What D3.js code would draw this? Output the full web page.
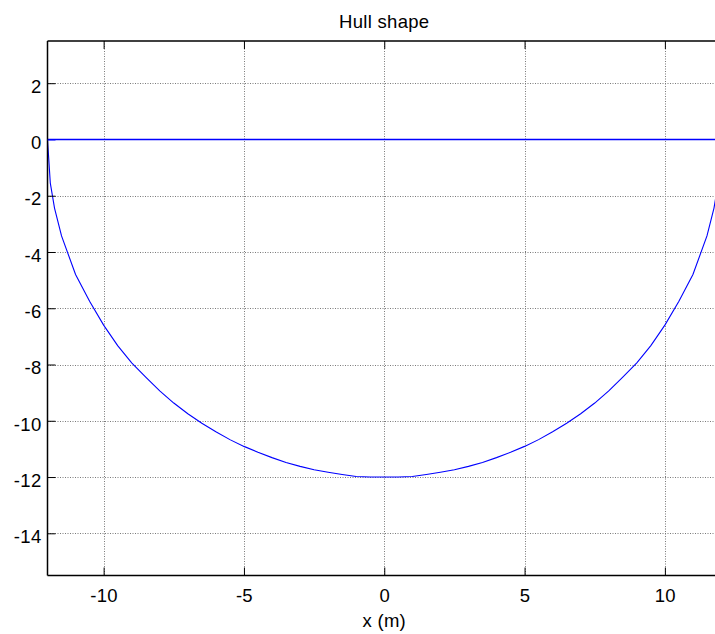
<!DOCTYPE html>
<html>
<head>
<meta charset="utf-8">
<script src="https://cdn.jsdelivr.net/npm/d3@7"></script>
<style>
  html, body { margin: 0; padding: 0; background: #fff; overflow: hidden; }
  svg { display: block; }
  text { font-family: "Liberation Sans", Arial, Helvetica, sans-serif; fill: #000; }
</style>
</head>
<body>
<svg id="chart" width="715" height="634"></svg>
<script>
// ---- data ----
const hullX = [-12, -11.9, -11.75, -11.5, -11, -10.5, -10, -9.5, -9, -8.5, -8, -7.5, -7, -6.5, -6, -5.5, -5, -4.5, -4, -3.5, -3, -2.5, -2, -1.5, -1, -0.5, 0,
               0.5, 1, 1.5, 2, 2.5, 3, 3.5, 4, 4.5, 5, 5.5, 6, 6.5, 7, 7.5, 8, 8.5, 9, 9.5, 10, 10.5, 11, 11.5, 11.75, 11.9, 12];
const hullY = [0, -1.55, -2.44, -3.43, -4.8, -5.75, -6.6, -7.33, -7.94, -8.45, -8.94, -9.37, -9.75, -10.09, -10.39, -10.67, -10.91, -11.12, -11.31, -11.48, -11.62, -11.74, -11.83, -11.91, -11.98, -12, -12,
               -12, -11.98, -11.91, -11.83, -11.74, -11.62, -11.48, -11.31, -11.12, -10.91, -10.67, -10.39, -10.09, -9.75, -9.37, -8.94, -8.45, -7.94, -7.33, -6.6, -5.75, -4.8, -3.43, -2.44, -1.55, 0];
const deckX = [-12, 12];
const deckY = [0, 0];
const xTicks = [-10, -5, 0, 5, 10];
const yTicks = [2, 0, -2, -4, -6, -8, -10, -12, -14];
const xDomain = [-12, 12];
const yDomain = [-15.5, 3.5];
const titleText = "Hull shape";
const xLabelText = "x (m)";

// ---- layout ----
const L = 47.5, R = 721, T = 41, B = 575.5;
const FS = 18.5;
const svg = d3.select("#chart");
const x = d3.scaleLinear().domain(xDomain).range([L, R]);
const y = d3.scaleLinear().domain(yDomain).range([B, T]);
const fmt = d => String(d);

// grid
const grid = svg.append("g").attr("stroke", "#7a7a7a").attr("stroke-width", 1).attr("stroke-dasharray", "1,1.5");
grid.selectAll(".gx").data(xTicks).join("line")
  .attr("x1", d => Math.round(x(d)) + 0.5).attr("x2", d => Math.round(x(d)) + 0.5)
  .attr("y1", T).attr("y2", B);
grid.selectAll(".gy").data(yTicks.filter(d => d !== 0)).join("line")
  .attr("y1", d => Math.round(y(d)) + 0.5).attr("y2", d => Math.round(y(d)) + 0.5)
  .attr("x1", L).attr("x2", R);

// lines
const line = d3.line().x(d => x(d[0])).y(d => y(d[1]));
svg.append("path").datum(deckX.map((v, i) => [v, deckY[i]]))
  .attr("d", line).attr("fill", "none").attr("stroke", "#0000ff").attr("stroke-width", 1.6);
svg.append("path").datum(hullX.map((v, i) => [v, hullY[i]]))
  .attr("d", line).attr("fill", "none").attr("stroke", "#0000ff").attr("stroke-width", 1.1);

// axes (MATLAB-style inward ticks)
const tickLen = 8;
const xAxisB = d3.axisBottom(x).tickValues(xTicks).tickSize(-tickLen).tickFormat(fmt);
const gB = svg.append("g").attr("transform", `translate(0,${B})`).call(xAxisB);
const xAxisT = d3.axisTop(x).tickValues(xTicks).tickSize(-tickLen).tickFormat("");
const gT = svg.append("g").attr("transform", `translate(0,${T})`).call(xAxisT);
const yAxisL = d3.axisLeft(y).tickValues(yTicks).tickSize(-tickLen).tickFormat(fmt);
const gL = svg.append("g").attr("transform", `translate(${L},0)`).call(yAxisL);

[gB, gT, gL].forEach(g => {
  g.select(".domain").attr("stroke", "#000").attr("stroke-width", 1.5);
  g.selectAll(".tick line").attr("stroke", "#000").attr("stroke-width", 1);
  g.selectAll("text").attr("font-size", FS).attr("fill", "#000")
    .style("font-family", '"Liberation Sans", Arial, sans-serif')
    .style("letter-spacing", "0.3px");
});
gL.selectAll(".tick").filter(d => d === 0).select("line").attr("stroke", "#0000ff");
gB.selectAll(".tick text").attr("dy", "0.71em").attr("y", 13);
gL.selectAll(".tick text").attr("dy", "0.5em").attr("x", -6);
gB.select(".domain").attr("d", `M${L},0H${R}`);
gT.select(".domain").attr("d", `M${L},0H${R}`);
gL.select(".domain").attr("d", `M0,${T}V${B}`);

// title & label
svg.append("text").attr("x", (L + R) / 2).attr("y", 27.5).attr("text-anchor", "middle")
  .attr("font-size", FS).style("letter-spacing", "0.3px").text(titleText);
svg.append("text").attr("x", (L + R) / 2).attr("y", 627).attr("text-anchor", "middle")
  .attr("font-size", FS).style("letter-spacing", "0.3px").text(xLabelText);
</script>
</body>
</html>
